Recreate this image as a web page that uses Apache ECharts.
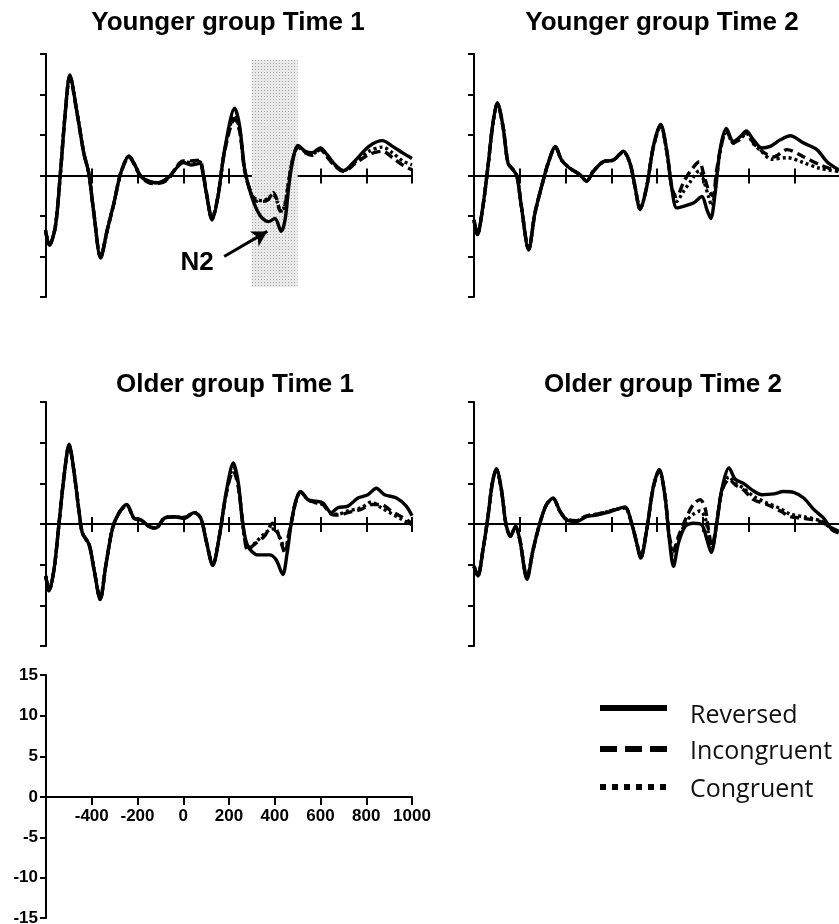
<!DOCTYPE html>
<html><head><meta charset="utf-8">
<script src="https://cdn.jsdelivr.net/npm/echarts@6/dist/echarts.min.js"></script>
<style>html,body{margin:0;padding:0;background:#fff}#c{width:839px;height:924px}</style>
</head><body><div id="c"></div>
<script>
// ---- Data: [time (ms), amplitude (µV)] ----
const panelTitles = ['Younger group Time 1', 'Younger group Time 2', 'Older group Time 1', 'Older group Time 2'];
const seriesNames = ['Reversed', 'Incongruent', 'Congruent'];
const xTicks = [-600, -400, -200, 0, 200, 400, 600, 800, 1000];
const yTicks = [-15, -10, -5, 0, 5, 10, 15];
const n2Window = [300, 500];

const youngT1Reversed = [[-603,-6.7],[-585,-8.6],[-559,-6.3],[-537,0.3],[-515,8.0],[-496,12.4],[-464,7.7],[-435,2.8],[-413,0.3],[-391,-4.6],[-361,-10.2],[-332,-6.7],[-303,-3.4],[-273,0.3],[-237,2.4],[-215,1.5],[-185,-0.1],[-149,-0.7],[-112,-0.9],[-68,-0.3],[-24,1.1],[0,1.6],[35,1.3],[72,1.5],[86,0.3],[101,-2.2],[126,-5.5],[152,-2.6],[181,3.2],[225,8.3],[247,6.0],[269,0.7],[299,-2.6],[335,-4.9],[372,-5.7],[401,-5.3],[428,-6.9],[445,-5.5],[463,-0.9],[482,2.3],[501,3.7],[533,3.0],[562,2.8],[599,3.4],[628,2.6],[665,1.3],[701,0.6],[753,1.9],[812,3.6],[871,4.3],[915,3.6],[959,2.8],[1000,2.1]];
const youngT1Incongruent = [[-603,-6.7],[-585,-8.6],[-559,-6.3],[-537,0.3],[-515,8.0],[-496,12.2],[-464,7.6],[-435,2.8],[-413,0.3],[-391,-4.6],[-361,-10.1],[-332,-6.7],[-303,-3.4],[-273,0.3],[-237,2.3],[-215,1.4],[-185,-0.2],[-149,-0.9],[-112,-1.0],[-68,-0.5],[-24,1.3],[0,1.8],[35,1.8],[72,1.9],[86,0.5],[101,-2.0],[126,-5.3],[152,-2.5],[181,3.0],[225,7.0],[247,5.4],[269,0.5],[299,-2.3],[323,-3.2],[350,-3.2],[371,-3.0],[393,-2.1],[410,-3.0],[424,-4.4],[440,-4.2],[455,-2.0],[468,0.5],[482,2.3],[501,3.5],[533,2.8],[562,2.5],[599,3.2],[628,2.3],[665,1.1],[701,0.5],[753,1.5],[812,2.6],[871,3.0],[915,2.2],[959,1.3],[1000,0.7]];
const youngT1Congruent = [[-603,-6.7],[-585,-8.6],[-559,-6.3],[-537,0.3],[-515,8.0],[-496,12.3],[-464,7.7],[-435,2.8],[-413,0.3],[-391,-4.6],[-361,-10.1],[-332,-6.7],[-303,-3.4],[-273,0.3],[-237,2.4],[-215,1.5],[-185,-0.1],[-149,-0.8],[-112,-0.9],[-68,-0.4],[-24,1.2],[0,1.7],[35,1.6],[72,1.7],[86,0.4],[101,-2.1],[126,-5.4],[152,-2.5],[181,3.1],[225,7.4],[247,5.6],[269,0.6],[299,-2.4],[323,-3.0],[350,-3.1],[371,-2.8],[393,-2.3],[410,-3.2],[424,-4.2],[440,-4.0],[455,-1.8],[468,0.6],[482,2.4],[501,3.6],[533,2.9],[562,2.6],[599,3.3],[628,2.4],[665,1.2],[701,0.6],[753,1.7],[812,3.0],[871,3.5],[915,2.8],[959,1.8],[1000,1.3]];

const youngT2Reversed = [[-600,-5.5],[-585,-7.3],[-561,-3.8],[-539,1.1],[-517,6.5],[-498,9.0],[-473,6.0],[-451,1.5],[-429,0.7],[-412,-0.1],[-393,-3.8],[-361,-9.2],[-334,-4.7],[-305,-1.4],[-276,1.5],[-244,3.6],[-217,1.9],[-181,0.9],[-137,0.1],[-108,-0.7],[-79,0.5],[-35,1.7],[9,1.9],[53,3.0],[82,1.5],[104,-1.4],[126,-4.2],[155,-1.4],[184,3.6],[216,6.3],[242,3.2],[264,-1.4],[286,-4.0],[315,-3.8],[359,-3.4],[396,-2.6],[418,-4.2],[435,-5.3],[454,-2.2],[476,3.2],[503,5.8],[534,4.2],[564,4.8],[590,5.5],[622,4.4],[659,3.4],[695,3.6],[739,4.4],[783,4.9],[841,4.0],[899,3.2],[943,1.7],[994,0.7]];
const youngT2Incongruent = [[-600,-5.5],[-585,-7.3],[-561,-3.8],[-539,1.1],[-517,6.5],[-498,8.9],[-473,6.0],[-451,1.5],[-429,0.7],[-412,-0.1],[-393,-3.8],[-361,-9.1],[-334,-4.7],[-305,-1.4],[-276,1.5],[-244,3.5],[-217,1.9],[-181,0.9],[-137,0.1],[-108,-0.7],[-79,0.5],[-35,1.7],[9,1.9],[53,2.9],[82,1.5],[104,-1.4],[126,-4.1],[155,-1.4],[184,3.5],[216,6.2],[242,3.1],[264,-1.4],[275,-2.3],[286,-2.6],[315,-0.9],[345,0.5],[385,1.7],[403,0.3],[425,-1.8],[444,-2.5],[460,0.5],[476,3.0],[503,5.6],[534,4.0],[564,4.6],[590,5.3],[622,4.0],[659,3.0],[710,2.3],[768,3.2],[841,2.3],[914,1.3],[972,0.7],[994,0.5]];
const youngT2Congruent = [[-600,-5.5],[-585,-7.3],[-561,-3.8],[-539,1.1],[-517,6.5],[-498,8.9],[-473,6.0],[-451,1.5],[-429,0.7],[-412,-0.1],[-393,-3.8],[-361,-9.1],[-334,-4.7],[-305,-1.4],[-276,1.5],[-244,3.5],[-217,1.9],[-181,0.9],[-137,0.1],[-108,-0.7],[-79,0.5],[-35,1.7],[9,1.9],[53,2.9],[82,1.5],[104,-1.4],[126,-4.1],[155,-1.4],[184,3.5],[216,6.2],[242,3.1],[264,-1.4],[286,-3.2],[315,-2.0],[345,-0.8],[385,0.6],[403,-0.5],[425,-2.6],[440,-3.8],[460,-0.5],[476,3.0],[503,5.5],[534,4.0],[564,4.5],[590,5.2],[622,3.9],[659,2.9],[700,2.0],[770,2.2],[840,1.6],[910,0.9],[994,0.5]];

const oldT1Reversed = [[-601,-6.4],[-587,-8.2],[-565,-5.6],[-543,0.1],[-521,5.9],[-499,9.8],[-477,6.3],[-455,1.4],[-441,-1.1],[-412,-2.5],[-390,-5.6],[-363,-9.3],[-339,-5.2],[-309,-0.5],[-280,1.4],[-247,2.4],[-215,0.7],[-185,0.5],[-149,-0.3],[-120,-0.5],[-83,0.7],[-39,0.9],[4,0.7],[48,1.4],[77,0.7],[99,-1.9],[129,-5.1],[158,-1.5],[187,3.8],[219,7.5],[241,5.0],[260,0.1],[282,-2.7],[326,-3.8],[377,-3.8],[406,-4.4],[435,-6.2],[454,-3.6],[472,0.1],[494,3.0],[513,4.0],[545,3.0],[581,2.8],[610,2.6],[647,1.4],[676,2.0],[720,2.2],[764,3.2],[807,3.6],[844,4.4],[880,3.6],[932,3.2],[975,2.2],[1000,1.0]];
const oldT1Incongruent = [[-601,-6.4],[-587,-8.2],[-565,-5.6],[-543,0.1],[-521,5.9],[-499,9.7],[-477,6.3],[-455,1.4],[-441,-1.1],[-412,-2.5],[-390,-5.6],[-363,-9.2],[-339,-5.2],[-309,-0.5],[-280,1.4],[-247,2.3],[-215,0.7],[-185,0.5],[-149,-0.3],[-120,-0.5],[-83,0.7],[-39,0.9],[4,0.8],[48,1.4],[77,0.7],[99,-1.9],[129,-5.0],[158,-1.5],[187,3.6],[219,6.5],[241,4.5],[260,0.1],[282,-3.2],[311,-2.5],[355,-1.5],[391,0.1],[406,-0.5],[428,-2.3],[445,-3.6],[460,-1.5],[472,0.1],[494,3.0],[513,3.9],[545,3.0],[581,2.6],[610,2.4],[647,1.2],[676,1.1],[720,1.4],[778,1.8],[822,2.4],[866,2.4],[909,1.6],[953,0.9],[1000,0.1]];
const oldT1Congruent = [[-601,-6.4],[-587,-8.2],[-565,-5.6],[-543,0.1],[-521,5.9],[-499,9.7],[-477,6.3],[-455,1.4],[-441,-1.1],[-412,-2.5],[-390,-5.6],[-363,-9.2],[-339,-5.2],[-309,-0.5],[-280,1.4],[-247,2.3],[-215,0.7],[-185,0.5],[-149,-0.3],[-120,-0.5],[-83,0.7],[-39,0.9],[4,0.8],[48,1.4],[77,0.7],[99,-1.9],[129,-5.0],[158,-1.5],[187,3.7],[219,6.9],[241,4.7],[260,0.1],[282,-3.0],[311,-2.4],[355,-1.2],[391,-0.6],[406,-0.8],[428,-2.0],[445,-3.4],[460,-1.4],[472,0.1],[494,3.0],[513,3.9],[545,3.0],[581,2.6],[610,2.4],[647,1.3],[676,1.2],[720,1.6],[778,2.0],[822,2.7],[866,2.0],[909,1.3],[953,0.6],[1000,-0.1]];

const oldT2Reversed = [[-600,-5.2],[-583,-6.4],[-561,-3.2],[-539,0.9],[-520,5.0],[-502,6.8],[-480,4.2],[-461,0.1],[-441,-1.5],[-418,-0.3],[-400,-1.9],[-368,-6.8],[-342,-3.2],[-312,0.1],[-283,2.4],[-254,3.2],[-225,1.6],[-196,0.5],[-152,0.3],[-108,0.9],[-64,1.1],[-20,1.4],[23,1.8],[60,2.1],[89,0.1],[111,-2.3],[129,-4.2],[155,-0.7],[184,4.6],[210,6.7],[235,3.4],[254,-1.9],[272,-5.2],[294,-2.3],[323,-0.3],[359,0.1],[396,-0.1],[418,-1.9],[437,-3.5],[461,0.1],[483,4.2],[515,6.9],[542,5.5],[578,5.0],[615,4.2],[658,3.6],[710,3.7],[753,4.0],[797,3.9],[841,3.2],[885,1.8],[929,0.7],[965,-0.7],[994,-1.1]];
const oldT2Incongruent = [[-600,-5.2],[-583,-6.4],[-561,-3.2],[-539,0.9],[-520,5.0],[-502,6.7],[-480,4.2],[-461,0.1],[-441,-1.5],[-418,-0.3],[-400,-1.9],[-368,-6.6],[-342,-3.2],[-312,0.1],[-283,2.4],[-254,3.1],[-225,1.6],[-196,0.6],[-152,0.4],[-108,1.0],[-64,1.2],[-20,1.5],[23,1.8],[60,2.0],[89,0.1],[111,-2.3],[129,-4.1],[155,-0.7],[184,4.5],[210,6.6],[235,3.4],[254,-1.5],[272,-3.2],[294,-1.5],[330,0.9],[359,2.4],[388,3.0],[410,2.0],[425,-0.7],[440,-2.7],[461,0.1],[483,4.0],[515,5.5],[542,4.8],[578,4.2],[622,3.0],[680,2.4],[739,1.6],[783,0.9],[841,0.7],[914,0.3],[965,-0.5],[994,-0.9]];
const oldT2Congruent = [[-600,-5.2],[-583,-6.4],[-561,-3.2],[-539,0.9],[-520,5.0],[-502,6.7],[-480,4.2],[-461,0.1],[-441,-1.5],[-418,-0.3],[-400,-1.9],[-368,-6.6],[-342,-3.2],[-312,0.1],[-283,2.4],[-254,3.1],[-225,1.6],[-196,0.6],[-152,0.4],[-108,1.0],[-64,1.2],[-20,1.5],[23,1.8],[60,2.0],[89,0.1],[111,-2.3],[129,-4.1],[155,-0.7],[184,4.5],[210,6.6],[235,3.4],[254,-1.7],[272,-3.8],[294,-1.8],[330,0.4],[359,1.2],[388,1.6],[410,0.8],[425,-1.2],[440,-3.0],[461,0.1],[483,4.1],[515,5.8],[542,5.0],[578,4.4],[622,3.4],[680,2.6],[739,1.9],[783,1.2],[841,0.9],[914,0.4],[965,-0.6],[994,-1.0]];

const panelData = [
  [youngT1Reversed, youngT1Incongruent, youngT1Congruent],
  [youngT2Reversed, youngT2Incongruent, youngT2Congruent],
  [oldT1Reversed, oldT1Incongruent, oldT1Congruent],
  [oldT2Reversed, oldT2Incongruent, oldT2Congruent]
];

// ---- Layout / styling ----
const chart = echarts.init(document.getElementById('c'), null, {renderer: 'canvas'});
const panelBoxes = [
  [46, 54, 366, 243],
  [474, 54, 366, 243],
  [46, 402, 366, 244],
  [474, 402, 366, 244]
];
// scale panel: split at 0 so the x labels sit under the zero line
const scaleUpperBox = [46, 675, 366, 122];
const scaleLowerBox = [46, 797, 366, 121];
const allBoxes = panelBoxes.concat([scaleUpperBox, scaleLowerBox]);
const grids = allBoxes.map(b => ({left: b[0], top: b[1], width: b[2], height: b[3], outerBoundsMode: 'none', containLabel: false}));
const labelFont = {color: '#000', fontFamily: 'Liberation Sans, Arial, sans-serif', fontWeight: 'bold', fontSize: 17};
const lineTypes = ['solid', [9, 5], [3, 3]];
const axisColor = '#000';

// stippled pattern for the N2 window
const pat = document.createElement('canvas');
pat.width = 3; pat.height = 3;
const pctx = pat.getContext('2d');
pctx.fillStyle = '#e9e9e9'; pctx.fillRect(0, 0, 3, 3);
pctx.fillStyle = '#a8a8a8'; pctx.fillRect(0, 0, 1, 1);

const xRange = {type: 'value', min: xTicks[0], max: xTicks[xTicks.length - 1], interval: 200, splitLine: {show: false}};
const xAxes = [], yAxes = [];
panelBoxes.forEach((g, gi) => {
  xAxes.push(Object.assign({}, xRange, {
    gridIndex: gi, position: 'bottom',
    axisLine: {onZero: true, onZeroAxisIndex: gi, lineStyle: {color: axisColor, width: 2}},
    axisTick: {show: true, length: 8, lineStyle: {color: axisColor, width: 2}},
    axisLabel: {show: false}
  }));
  xAxes.push(Object.assign({}, xRange, {
    gridIndex: gi, position: 'top',
    axisLine: {onZero: true, onZeroAxisIndex: gi, lineStyle: {color: axisColor, width: 2}},
    axisTick: {show: true, length: 7, lineStyle: {color: axisColor, width: 2}},
    axisLabel: {show: false}
  }));
  yAxes.push({
    type: 'value', gridIndex: gi, min: yTicks[0], max: yTicks[yTicks.length - 1], interval: 5,
    axisLine: {show: true, onZero: false, lineStyle: {color: axisColor, width: 2}},
    axisTick: {show: true, length: 6, lineStyle: {color: axisColor, width: 2}},
    axisLabel: {show: false},
    splitLine: {show: false}
  });
});
// scale panel upper half (x axis with labels at zero)
xAxes.push(Object.assign({}, xRange, {
  gridIndex: 4, position: 'bottom',
  axisLine: {onZero: false, lineStyle: {color: axisColor, width: 2}},
  axisTick: {show: true, length: 8, lineStyle: {color: axisColor, width: 2}},
  axisLabel: {show: true, margin: 11, ...labelFont, formatter: v => (v === xTicks[0] ? '' : String(v))}
}));
yAxes.push({
  type: 'value', gridIndex: 4, min: 0, max: yTicks[yTicks.length - 1], interval: 5,
  axisLine: {show: true, onZero: false, lineStyle: {color: axisColor, width: 2}},
  axisTick: {show: true, length: 6, lineStyle: {color: axisColor, width: 2}},
  axisLabel: {show: true, margin: 8, ...labelFont},
  splitLine: {show: false}
});
// scale panel lower half
xAxes.push(Object.assign({}, xRange, {gridIndex: 5, show: false}));
yAxes.push({
  type: 'value', gridIndex: 5, min: yTicks[0], max: 0, interval: 5,
  axisLine: {show: true, onZero: false, lineStyle: {color: axisColor, width: 2}},
  axisTick: {show: true, length: 6, lineStyle: {color: axisColor, width: 2}},
  axisLabel: {show: true, margin: 8, ...labelFont, formatter: v => (v === 0 ? '' : String(v))},
  splitLine: {show: false}
});

const series = [];
// shaded N2 window + arrow (panel 1)
series.push({
  type: 'line', xAxisIndex: 0, yAxisIndex: 0, data: [], z: 1, silent: true,
  markArea: {silent: true, itemStyle: {color: {image: pat, repeat: 'repeat'}},
    data: [[{xAxis: n2Window[0], yAxis: 14.3}, {xAxis: n2Window[1], yAxis: -13.8}]]},
  markLine: {silent: true, symbol: ['none', 'arrow'], symbolSize: [13, 15], label: {show: false},
    lineStyle: {color: '#000', width: 3, type: 'solid'},
    data: [[{coord: [179, -10.0]}, {coord: [367, -6.9]}]]}
});
panelData.forEach((sets, gi) => {
  const xi = gi * 2;
  [2, 1, 0].forEach(si => {
    series.push({
      type: 'line', name: seriesNames[si], xAxisIndex: xi, yAxisIndex: gi,
      data: sets[si], smooth: 0.3, symbol: 'none', silent: true, z: 3 + (2 - si),
      lineStyle: {color: '#000', width: 3.4, type: lineTypes[si]}
    });
  });
});

const titleFont = 'bold 26px "Liberation Sans", Arial, sans-serif';
const legendFont = '25px "Open Sans", sans-serif';
const graphic = [
  {type: 'text', x: 228, y: 23, style: {text: panelTitles[0], font: titleFont, fill: '#000', align: 'center', verticalAlign: 'middle'}},
  {type: 'text', x: 662, y: 23, style: {text: panelTitles[1], font: titleFont, fill: '#000', align: 'center', verticalAlign: 'middle'}},
  {type: 'text', x: 235, y: 385, style: {text: panelTitles[2], font: titleFont, fill: '#000', align: 'center', verticalAlign: 'middle'}},
  {type: 'text', x: 663, y: 385, style: {text: panelTitles[3], font: titleFont, fill: '#000', align: 'center', verticalAlign: 'middle'}},
  {type: 'text', x: 197, y: 263, style: {text: 'N2', font: 'bold 26px "Liberation Sans", Arial, sans-serif', fill: '#000', align: 'center', verticalAlign: 'middle'}},
  {type: 'line', shape: {x1: 600, y1: 708, x2: 667, y2: 708}, style: {stroke: '#000', lineWidth: 6}},
  {type: 'line', shape: {x1: 600, y1: 749, x2: 667, y2: 749}, style: {stroke: '#000', lineWidth: 6, lineDash: [17, 8]}},
  {type: 'line', shape: {x1: 600, y1: 787, x2: 667, y2: 787}, style: {stroke: '#000', lineWidth: 6, lineDash: [6, 6]}},
  {type: 'text', x: 690, y: 716, style: {text: seriesNames[0], font: legendFont, fill: '#111', align: 'left', verticalAlign: 'middle'}},
  {type: 'text', x: 690, y: 752, style: {text: seriesNames[1], font: legendFont, fill: '#111', align: 'left', verticalAlign: 'middle'}},
  {type: 'text', x: 690, y: 790, style: {text: seriesNames[2], font: legendFont, fill: '#111', align: 'left', verticalAlign: 'middle'}}
];

chart.setOption({
  animation: false,
  backgroundColor: '#fff',
  grid: grids,
  xAxis: xAxes,
  yAxis: yAxes,
  series: series,
  graphic: graphic
});
</script>
</body></html>
